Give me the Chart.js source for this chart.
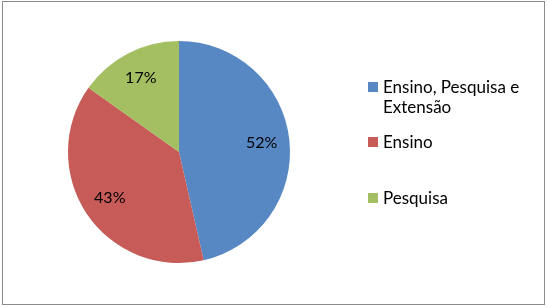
<!DOCTYPE html>
<html>
<head>
<meta charset="utf-8">
<script src="https://cdn.jsdelivr.net/npm/chart.js@4"></script>
<style>
	html, body { margin: 0; padding: 0; background: #fff; }
	#frame {
		position: absolute; left: 2px; top: 1px;
		width: 541px; height: 302px;
		border: 1px solid #8a8a8a;
	}
	#wrapper { position: absolute; left: 0; top: 0; width: 547px; height: 307px; }
</style>
</head>
<body>
<div id="frame"></div>
<div id="wrapper"><canvas id="pie-chart"></canvas></div>
<script>
// Chart data
const categories = ["Ensino, Pesquisa e Extensão", "Ensino", "Pesquisa"];
const legendLines = [["Ensino, Pesquisa e", "Extensão"], ["Ensino"], ["Pesquisa"]];
const values = [52, 43, 17];
const colors = ["#5888c4", "#c65b58", "#a3bf61"];

const FONT = "Lato, 'Open Sans', sans-serif";

// draws "52%" etc. inside each slice
const sliceLabels = {
	id: "sliceLabels",
	afterDatasetsDraw(chart) {
		const ctx = chart.ctx;
		const meta = chart.getDatasetMeta(0);
		ctx.save();
		ctx.font = "16px " + FONT;
		ctx.fillStyle = "#000";
		ctx.textAlign = "center";
		ctx.textBaseline = "middle";
		meta.data.forEach((arc, i) => {
			const p = arc.getProps(["x", "y", "startAngle", "endAngle", "outerRadius"], true);
			const mid = (p.startAngle + p.endAngle) / 2;
			const r = p.outerRadius * 0.75;
			ctx.fillText(values[i] + "%", p.x + Math.cos(mid) * r, p.y + Math.sin(mid) * r);
		});
		ctx.restore();
	},
};

// legend on the right, drawn by hand so the long label wraps like the original
const sideLegend = {
	id: "sideLegend",
	afterDraw(chart) {
		const ctx = chart.ctx;
		const rowTop = [82, 137, 193];
		ctx.save();
		ctx.font = "17px " + FONT;
		ctx.textBaseline = "alphabetic";
		ctx.textAlign = "left";
		categories.forEach((c, i) => {
			ctx.fillStyle = colors[i];
			ctx.fillRect(368, rowTop[i], 10, 10);
			ctx.fillStyle = "#000";
			legendLines[i].forEach((line, j) => {
				ctx.fillText(line, 383, rowTop[i] + 11 + j * 20);
			});
		});
		ctx.restore();
	},
};

new Chart(document.getElementById("pie-chart").getContext("2d"), {
	type: "pie",
	data: {
		labels: categories,
		datasets: [
			{
				data: values,
				backgroundColor: colors,
				borderWidth: 0,
			},
		],
	},
	options: {
		responsive: true,
		maintainAspectRatio: false,
		animation: false,
		layout: {
			padding: { left: 68, right: 257, top: 41, bottom: 44 },
		},
		plugins: {
			legend: { display: false },
			tooltip: { enabled: false },
		},
	},
	plugins: [sliceLabels, sideLegend],
});
</script>
</body>
</html>
